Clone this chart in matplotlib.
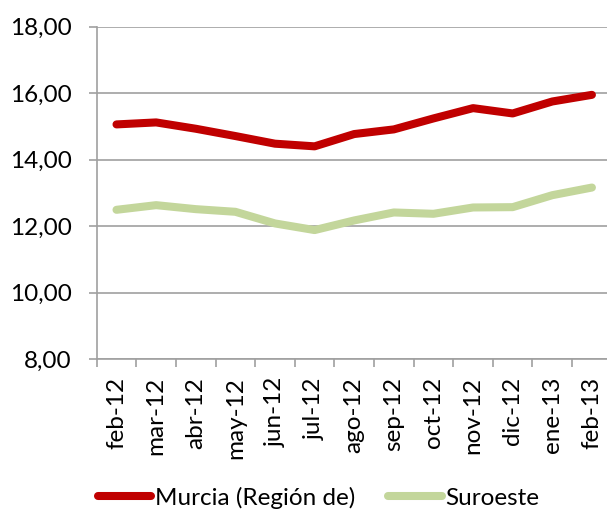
import matplotlib
matplotlib.use("Agg")
import matplotlib.pyplot as plt
from matplotlib.ticker import FixedLocator, FuncFormatter

months = ["feb-12", "mar-12", "abr-12", "may-12", "jun-12", "jul-12", "ago-12",
          "sep-12", "oct-12", "nov-12", "dic-12", "ene-13", "feb-13"]
murcia = [15.06, 15.12, 14.93, 14.71, 14.48, 14.40, 14.77, 14.91, 15.24, 15.55, 15.39, 15.75, 15.95]
suroeste = [12.49, 12.63, 12.51, 12.43, 12.08, 11.88, 12.17, 12.41, 12.37, 12.56, 12.57, 12.93, 13.16]
yticks = [8, 10, 12, 14, 16, 18]

plt.rcParams['font.family'] = ['Lato', 'DejaVu Sans']
FS = 17.5

fig = plt.figure(figsize=(6.07, 5.09), dpi=100)
ax = fig.add_axes([0.1593, 0.2947, 0.8485, 0.6528])

x = list(range(len(months)))
ax.plot(x, murcia, color="#C00000", lw=5.8, solid_capstyle="round", solid_joinstyle="round",
        label="Murcia (Región de)", zorder=3)
ax.plot(x, suroeste, color="#C3D69B", lw=5.8, solid_capstyle="round", solid_joinstyle="round",
        label="Suroeste", zorder=3)

ax.set_xlim(-0.5, len(months) - 0.5)
ax.set_ylim(8, 18)
ax.set_yticks(yticks)
ax.yaxis.set_major_formatter(FuncFormatter(lambda v, p: f"{v:.2f}".replace(".", ",")))
ax.grid(axis="y", color="#A0A0A0", lw=1.2)
ax.set_axisbelow(True)

ax.set_xticks(x)
ax.set_xticklabels(months, rotation=90)
ax.xaxis.set_minor_locator(FixedLocator([i - 0.5 for i in range(len(months) + 1)]))
ax.tick_params(axis="x", which="major", length=0, pad=13, labelsize=FS)
ax.tick_params(axis="x", which="minor", length=5.5, color="#A0A0A0", width=1.2)
ax.tick_params(axis="y", length=6, color="#A0A0A0", width=1.2, labelsize=FS, pad=12)

for s in ["top", "right"]:
    ax.spines[s].set_visible(False)
for s in ["left", "bottom"]:
    ax.spines[s].set_color("#A0A0A0")
    ax.spines[s].set_linewidth(1.2)

fig.legend(loc="center", bbox_to_anchor=(0.525, 0.022), ncol=2, frameon=False,
           fontsize=FS, handlelength=2.2, handletextpad=0.15, columnspacing=1.35,
           borderpad=0, borderaxespad=0)

fig.savefig("out.png", dpi=100)
